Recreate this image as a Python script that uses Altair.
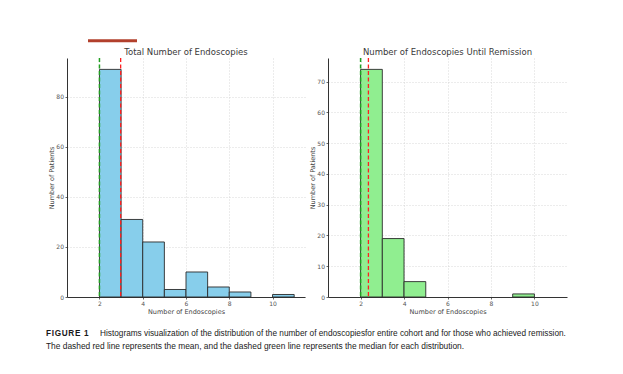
import altair as alt
import pandas as pd

# ---- data ----
bin_starts_total = [2, 3, 4, 5, 6, 7, 8, 10]
counts_total = [91, 31, 22, 3, 10, 4, 2, 1]
mean_total = 2.98
median_total = 2.0

bin_starts_rem = [2, 3, 4, 9]
counts_rem = [74, 19, 5, 1]
mean_rem = 2.36
median_rem = 2.0

x_ticks = [2, 4, 6, 8, 10]
y_ticks_total = [0, 20, 40, 60, 80]
y_ticks_rem = [0, 10, 20, 30, 40, 50, 60, 70]

title_total = "Total Number of Endoscopies"
title_rem = "Number of Endoscopies Until Remission"
x_title = "Number of Endoscopies"
y_title = "Number of Patients"

caption_label = "F\u200aI\u200aG\u200aU\u200aR\u200aE\u200a \u200a1"
caption_line1 = ("Histograms visualization of the distribution of the number of endoscopies"
                 "for entire cohort and for those who achieved remission.")
caption_line2 = ("The dashed red line represents the mean, and the dashed green line "
                 "represents the median for each distribution.")

PW, PH = 238, 239
one = alt.Data(values=[{"a": 1}])


def panel(starts, counts, mean, median, title, fill, ymax, yticks, width):
    df = pd.DataFrame({"start": starts, "end": [s + 1 for s in starts], "count": counts})
    xs = alt.Scale(domain=[0.5, 11.5], nice=False, zero=False)
    ys = alt.Scale(domain=[0, ymax], nice=False)
    xaxis = alt.Axis(values=x_ticks, title=x_title, format="d", titlePadding=1.5)
    yaxis = alt.Axis(values=yticks, title=y_title, format="d", titlePadding=1.5)
    bars = alt.Chart(df).mark_rect(
        fill=fill, stroke="#2a2a2a", strokeWidth=0.9
    ).encode(
        x=alt.X("start:Q", scale=xs, axis=xaxis),
        x2="end:Q",
        y=alt.Y("count:Q", scale=ys, axis=yaxis),
    )
    med = alt.Chart(pd.DataFrame({"v": [median]})).mark_rule(
        color="#22a022", strokeDash=[4, 2.5], strokeWidth=1.5
    ).encode(x=alt.X("v:Q", scale=xs))
    mn = alt.Chart(pd.DataFrame({"v": [mean]})).mark_rule(
        color="#ff2020", strokeDash=[4, 2.5], strokeWidth=1.3
    ).encode(x=alt.X("v:Q", scale=xs))
    ttl = alt.Chart(one).mark_text(
        text=title, font="DejaVu Sans", fontSize=8.5, color="#3a3a3a",
        align="center", baseline="middle"
    ).encode(x=alt.value(width / 2), y=alt.value(-6.3))
    return [bars, med, mn, ttl]


left_layers = panel(bin_starts_total, counts_total, mean_total, median_total,
                    title_total, "#87ceeb", 95.55, y_ticks_total, PW)
right_layers = panel(bin_starts_rem, counts_rem, mean_rem, median_rem,
                     title_rem, "#90ee90", 77.7, y_ticks_rem, PW + 1)

redbar = alt.Chart(one).mark_rule(color="#b2402c", strokeWidth=3).encode(
    x=alt.value(21), x2=alt.value(70), y=alt.value(-17.3)
)
cap_label = alt.Chart(one).mark_text(
    text=caption_label, font="Liberation Sans", fontSize=8.2, fontWeight="bold",
    align="left", baseline="middle", color="#1a1a1a"
).encode(x=alt.value(-21), y=alt.value(276))
cap1 = alt.Chart(one).mark_text(
    text=caption_line1, font="Liberation Sans", fontSize=8.25,
    align="left", baseline="middle", color="#1a1a1a"
).encode(x=alt.value(33), y=alt.value(276))
cap2 = alt.Chart(one).mark_text(
    text=caption_line2, font="Liberation Sans", fontSize=8.4,
    align="left", baseline="middle", color="#1a1a1a"
).encode(x=alt.value(-21), y=alt.value(287.5))

left = alt.layer(*left_layers, redbar, cap_label, cap1, cap2).properties(width=PW, height=PH)
right = alt.layer(*right_layers).properties(width=PW + 1, height=PH)

chart = alt.hconcat(left, right, spacing=23, bounds="flush").properties(
    padding={"top": 31, "left": 38, "right": 5, "bottom": 5}
).configure_view(stroke=None).configure_axis(
    labelFont="DejaVu Sans", labelFontSize=6, labelColor="#555555",
    titleFont="DejaVu Sans", titleFontSize=6.5, titleColor="#444444", titleFontWeight="normal",
    domainColor="#333333", domainWidth=1,
    tickColor="#666666", tickSize=2, labelPadding=1.5,
    grid=True, gridColor="#cfcfcf", gridDash=[1, 2], gridWidth=0.8,
).configure_axisX(labelFlush=False).configure_axisY(labelFlush=False)

chart.save("out.html", embed_options={"renderer": "svg", "actions": False})
